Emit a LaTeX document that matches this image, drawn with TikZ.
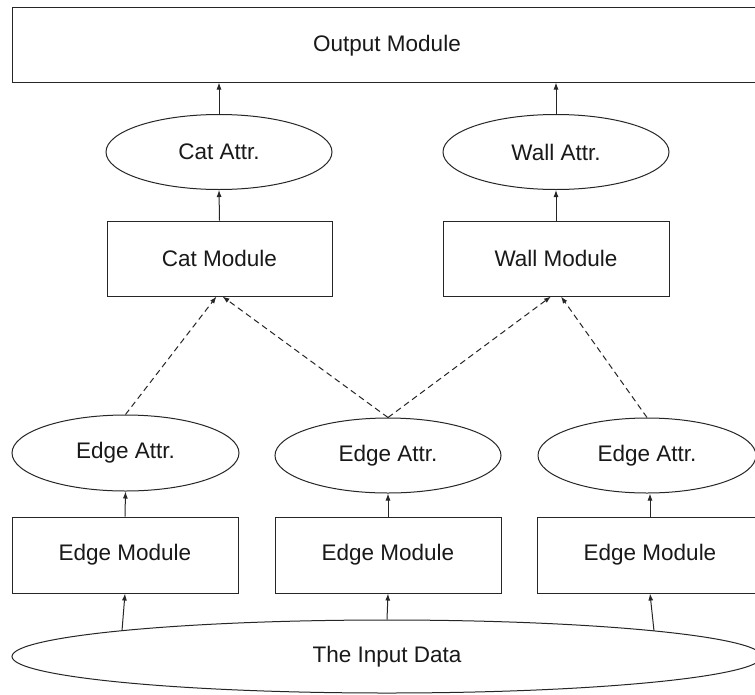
\documentclass[tikz,border=0pt]{standalone}
\usepackage{fontspec}
\setmainfont{Liberation Sans}
\usetikzlibrary{shapes.geometric,arrows.meta,calc}
\begin{document}
\begin{tikzpicture}[x=1pt,y=-1pt,
  every node/.style={font=\fontsize{22.5}{26}\selectfont, text=black!90},
  box/.style={draw=black!85, line width=1pt, rectangle, inner sep=0pt},
  ell/.style={draw=black!85, line width=1pt, ellipse, inner sep=0pt},
  arr/.style={draw=black!85, line width=1pt, -{Latex[length=7pt,width=5pt]}},
  darr/.style={arr, dash pattern=on 6pt off 4pt}]
\useasboundingbox (0,0) rectangle (755,694);
\fill[white] (0,0) rectangle (755,694);
\clip (0,0) rectangle (755,694);

% top
\node[box, minimum width=758pt, minimum height=75pt] (out) at (391,44.5) {};
\node at (387,46) {Output Module};

\node[ell, minimum width=226pt, minimum height=75pt] (ca) at (219,152) {Cat Attr.};
\node[ell, minimum width=226pt, minimum height=75pt] (wa) at (556,152) {Wall Attr.};

\node[box, minimum width=225pt, minimum height=75pt] (cm) at (219.5,258.5) {Cat Module};
\node[box, minimum width=226pt, minimum height=75pt] (wm) at (556,258.5) {Wall Module};

\node[ell, minimum width=227pt, minimum height=76pt] (ea1) at (125.5,453) {Edge Attr.};
\node[ell, minimum width=226pt, minimum height=75pt] (ea2) at (388,455.5) {Edge Attr.};
\node[ell, minimum width=218pt, minimum height=75pt] (ea3) at (647,455.5) {Edge Attr.};

\node[box, minimum width=226pt, minimum height=76pt] (em1) at (125,555) {Edge Module};
\node[box, minimum width=226pt, minimum height=76pt] (em2) at (388,555) {Edge Module};
\node[box, minimum width=226pt, minimum height=76pt] (em3) at (650,555) {Edge Module};

\node[ell, minimum width=750pt, minimum height=73pt] (inp) at (387,656.5) {The Input Data};
\coordinate (i1) at (122,630.7);
\coordinate (i3) at (654,630.9);

% solid arrows
\draw[arr] (ca.north) -- (ca.north |- out.south);
\draw[arr] (wa.north) -- (wa.north |- out.south);
\draw[arr] (cm.north) -- (ca.south);
\draw[arr] (wm.north) -- (wa.south);
\draw[arr] (em1.north) -- (ea1.south);
\draw[arr] (em2.north) -- (ea2.south);
\draw[arr] (em3.north) -- (em3.north |- ea3.south);
\draw[arr] (i1) -- (em1.south);
\draw[arr] (inp.north) -- (em2.south);
\draw[arr] (i3) -- (em3.south);

% dashed arrows
\draw[darr] (ea1.north) -- ($(cm.south)+(-3,0)$);
\draw[darr] (ea2.north) -- ($(cm.south)+(3,0)$);
\draw[darr] (ea2.north) -- ($(wm.south)+(-5,0)$);
\draw[darr] (ea3.north) -- ($(wm.south)+(5,0)$);
\end{tikzpicture}
\end{document}
